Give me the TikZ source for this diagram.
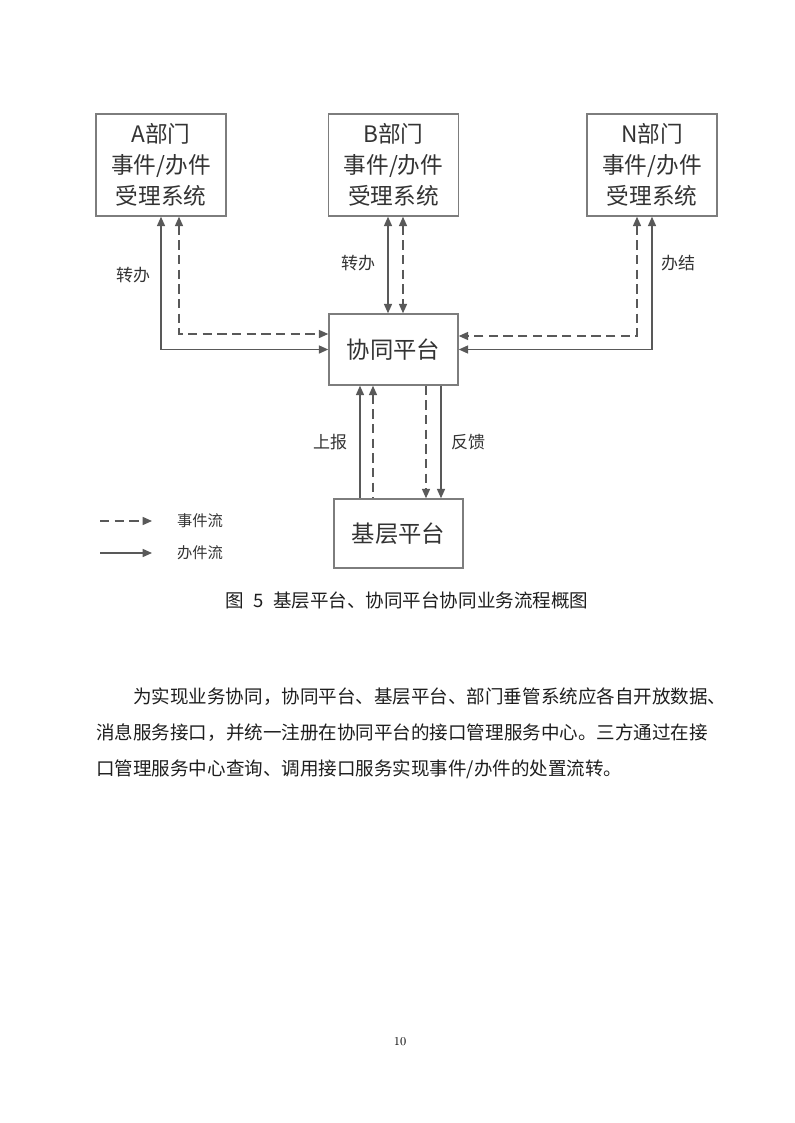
\documentclass[tikz,border=0pt]{standalone}
\usepackage{fontspec}
\usepackage{tikz}
\usetikzlibrary{arrows.meta, positioning, calc}
\newfontfamily\cjk{Noto Sans CJK SC}
\definecolor{mygrey}{RGB}{89,89,89}
\definecolor{myframe}{RGB}{125,125,125}
\definecolor{mytext}{RGB}{51,51,51}
\definecolor{mybody}{RGB}{30,30,30}
\tikzset{
  box/.style={draw=myframe, line width=1.1pt, fill=white, align=center, text=mytext, inner sep=0pt,
    font=\cjk\fontsize{17}{23.25}\selectfont},
  handle/.style={draw=mygrey, line width=1.1pt, >={Triangle[length=7pt,width=6pt]}},
  event/.style={handle, dash pattern=on 7pt off 4pt},
  lbl/.style={text=mytext, font=\cjk\fontsize{12.75}{15}\selectfont},
  body/.style={text=mybody, anchor=west, inner sep=0pt, font=\cjk\fontsize{13.9}{16}\selectfont}
}

\begin{document}
\begin{tikzpicture}[x=0.75pt, y=-0.75pt]
  \useasboundingbox (0,0) rectangle (794,1123);

  % department systems
  \node[box, minimum width=97.5pt, minimum height=76.5pt] (deptA) at (161,165) {A部门\\事件/办件\\受理系统};
  \node[box, minimum width=97.5pt, minimum height=76.5pt] (deptB) at (393.5,165) {B部门\\事件/办件\\受理系统};
  \node[box, minimum width=97.5pt, minimum height=76.5pt] (deptN) at (652,165) {N部门\\事件/办件\\受理系统};

  % platforms
  \node[box, minimum width=96.75pt, minimum height=53.25pt, font=\cjk\fontsize{17.5}{20}\selectfont] (xietong) at (393.5,349.5) {协同平台};
  \node[box, minimum width=96.75pt, minimum height=51.75pt, font=\cjk\fontsize{17.5}{20}\selectfont] (jiceng) at (398.5,533.5) {基层平台};

  % A <-> xietong
  \draw[handle, <->] (deptA.south) |- (xietong.west);
  \draw[event, <->] ($(deptA.south)+(18,0)$) |- ($(xietong.west)+(0,-15.5)$);
  \node[lbl] (lblA) at (133,275) {转办};

  % B <-> xietong
  \draw[handle, <->] ($(deptB.south)+(-5.5,0)$) -- ($(xietong.north)+(-5.5,0)$);
  \draw[event, <->] ($(deptB.south)+(9.5,0)$) -- ($(xietong.north)+(9.5,0)$);
  \node[lbl] (lblB) at (358,263) {转办};

  % N <-> xietong
  \draw[handle, <->] (deptN.south) |- (xietong.east);
  \draw[event, <->] ($(deptN.south)+(-15,0)$) |- ($(xietong.east)+(0,-13.5)$);
  \node[lbl] (lblN) at (678,263) {办结};

  % jiceng <-> xietong
  \coordinate (up1) at ($(xietong.south)+(-33.5,0)$);
  \coordinate (up2) at ($(xietong.south)+(-20.5,0)$);
  \coordinate (dn1) at ($(xietong.south)+(32.5,0)$);
  \coordinate (dn2) at ($(xietong.south)+(47.5,0)$);
  \draw[handle, <-] (up1) -- (up1 |- jiceng.north);
  \draw[event, <-] (up2) -- (up2 |- jiceng.north);
  \draw[event, ->] (dn1) -- (dn1 |- jiceng.north);
  \draw[handle, ->] (dn2) -- (dn2 |- jiceng.north);
  \node[lbl] (lblUp) at (330,442) {上报};
  \node[lbl] (lblDn) at (468,442) {反馈};

  % legend
  \coordinate (evS) at (100,521);
  \coordinate (evE) at (152,521);
  \coordinate (haS) at (100,553);
  \coordinate (haE) at (152,553);
  \draw[event, ->] (evS) -- (evE);
  \draw[handle, ->] (haS) -- (haE);
  \node[lbl, font=\cjk\fontsize{11.5}{14}\selectfont] (lgEv) at (200,521) {事件流};
  \node[lbl, font=\cjk\fontsize{11.5}{14}\selectfont] (lgHa) at (200,553) {办件流};

  % caption and text
  \node[text=mybody, font=\cjk\fontsize{13.9}{16}\selectfont] (caption) at (407,600) {图\hspace{0.5em}5\hspace{0.5em}基层平台、协同平台协同业务流程概图};
  \node[body] (par1) at (133,697) {为实现业务协同，协同平台、基层平台、部门垂管系统应各自开放数据、};
  \node[body] (par2) at (96,733) {消息服务接口，并统一注册在协同平台的接口管理服务中心。三方通过在接};
  \node[body] (par3) at (96,769) {口管理服务中心查询、调用接口服务实现事件/办件的处置流转。};

  \node[font=\fontsize{9}{10}\selectfont] (pageno) at (400,1042) {10};
\end{tikzpicture}
\end{document}
